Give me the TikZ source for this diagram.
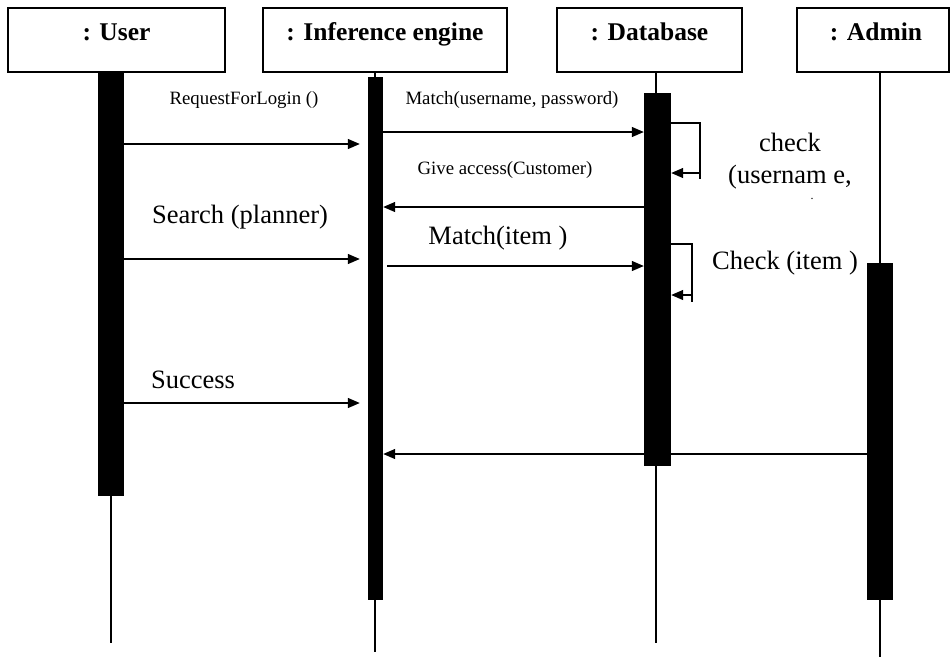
\documentclass[tikz,border=0pt]{standalone}
\usepackage{fontspec}
\setmainfont{Liberation Serif}
\usetikzlibrary{arrows.meta}
\tikzset{
	lifebox/.style={draw, line width=1.4pt, inner xsep=0pt, inner ysep=0pt, text height=32pt, text depth=32pt, font=\fontsize{25.5}{30}\selectfont\bfseries},
	actbar/.style={fill=black, inner sep=0pt, anchor=north},
	lifeline/.style={line width=1.2pt},
	msg/.style={line width=1.3pt, -{Triangle[length=12pt,width=10pt]}},
	biglabel/.style={font=\fontsize{26.5}{30}\selectfont},
	smalllabel/.style={font=\fontsize{18.8}{22}\selectfont},
}

\begin{document}
\begin{tikzpicture}[x=1pt, y=-1pt]
			%%%%% START %%%%%
			\useasboundingbox (0,0) rectangle (951,657);
			
			\node[lifebox, minimum width=217] (user) at (116.5,40) {: User};
			\node[lifebox, minimum width=244] (engine) at (385,40) {: Inference engine};
			\node[lifebox, minimum width=185] (db) at (649.5,40) {: Database};
			\node[lifebox, minimum width=152] (admin) at (873,40) {\hspace*{6pt}: Admin};
			
			\coordinate (uend) at (111,643);
			\coordinate (eend) at (375,652);
			\coordinate (dend) at (656,643);
			\coordinate (aend) at (880,657);
			\draw[lifeline] (uend |- user.south) -- (uend);
			\draw[lifeline] (eend |- engine.south) -- (eend);
			\draw[lifeline] (dend |- db.south) -- (dend);
			\draw[lifeline] (aend |- admin.south) -- (aend);
			
			\coordinate (m1) at (0,144);
			\coordinate (m2) at (0,132);
			\coordinate (m3) at (0,207);
			\coordinate (m4) at (0,259);
			\coordinate (m5) at (0,266);
			\coordinate (m6) at (0,403);
			\coordinate (m7) at (0,454);
			
			\node[actbar, minimum width=26, minimum height=424] (ubar) at (111,72) {};
			\node[actbar, minimum width=15, minimum height=523] (ebar) at (375.5,77) {};
			\node[actbar, minimum width=26, minimum height=337] (abar) at (880,263) {};
			
			\draw[msg] (abar.west |- m7) -- (ebar.east |- m7);
			\node[actbar, minimum width=27, minimum height=373] (dbar) at (657.5,93) {};
			
			\draw[msg, shorten >=8pt] (ubar.east |- m1) -- (ebar.west |- m1);
			\draw[msg] (ebar.east |- m2) -- (dbar.west |- m2);
			\draw[msg] (dbar.west |- m3) -- (ebar.east |- m3);
			\draw[msg, shorten >=8pt] (ubar.east |- m4) -- (ebar.west |- m4);
			\draw[msg, shorten <=4pt] (ebar.east |- m5) -- (dbar.west |- m5);
			\draw[msg, shorten >=8pt] (ubar.east |- m6) -- (ebar.west |- m6);
			
			% self calls on the database
			\coordinate (l1top) at (700,123);
			\coordinate (l1end) at (700,179);
			\coordinate (l1ret) at (700,173);
			\draw[lifeline] (dbar.east |- l1top) -- (l1top) -- (l1end);
			\draw[msg] (l1ret) -- (dbar.east |- l1ret);
			\coordinate (l2top) at (692,244);
			\coordinate (l2end) at (692,302);
			\coordinate (l2ret) at (692,295);
			\draw[lifeline] (dbar.east |- l2top) -- (l2top) -- (l2end);
			\draw[msg] (l2ret) -- (dbar.east |- l2ret);
			
			\node[smalllabel] (lreq) at (244,100) {RequestForLogin ()};
			\node[smalllabel] (lmatch) at (512,100) {Match(username, password)};
			\node[smalllabel] (lgive) at (505,170) {Give access(Customer)};
			\node[biglabel] (lsearch) at (240,217) {Search (planner)};
			\node[biglabel] (lmitem) at (498,238) {Match(item )};
			\node[biglabel] (lcheck) at (790,142) {check};
			\node[biglabel] (lname) at (790,177) {(usernam e,};
			\node[font=\fontsize{12}{14}\selectfont, anchor=base, inner sep=0pt] (ldot) at (812,199) {.};
			\node[biglabel] (lcitem) at (785,263) {Check (item )};
			\node[biglabel] (lsucc) at (193,380) {Success};
			
			%%%%% END %%%%%
\end{tikzpicture}
\end{document}
